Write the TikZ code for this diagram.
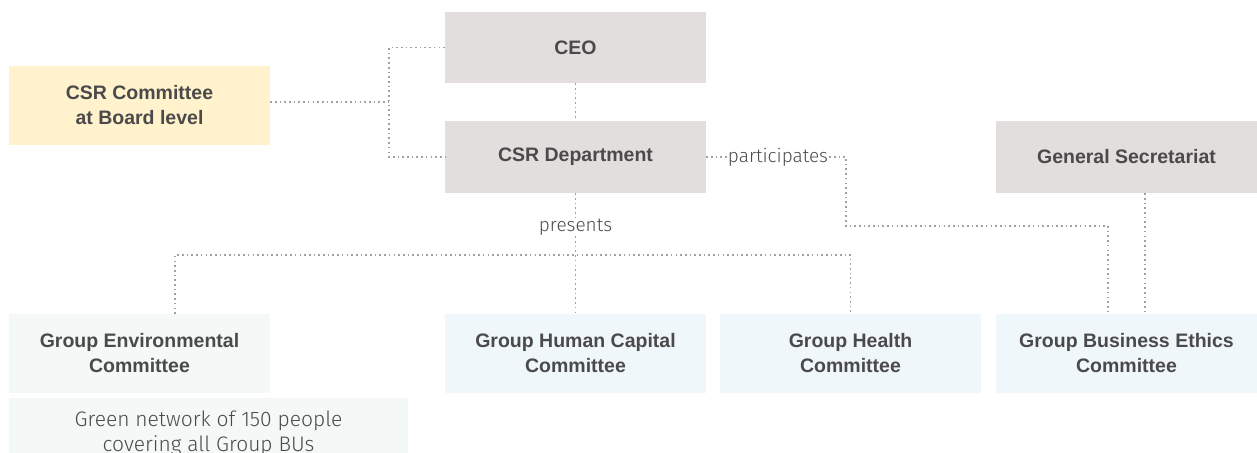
\documentclass[tikz,border=0pt]{standalone}
\usepackage{fontspec}
\setmainfont{Liberation Sans}
\newfontfamily\lightfont{Fira Sans Light}
\usetikzlibrary{calc}
\definecolor{boxgrey}{RGB}{227,222,222}
\definecolor{boxyellow}{RGB}{255,242,204}
\definecolor{boxmint}{RGB}{244,248,247}
\definecolor{boxblue}{RGB}{240,247,251}
\definecolor{textgrey}{RGB}{74,74,74}
\definecolor{linegrey}{RGB}{160,160,160}
\begin{document}
\begin{tikzpicture}[x=1pt,y=-1pt,
  box/.style={fill=#1, text=textgrey, font=\bfseries\fontsize{19.5}{25}\selectfont, align=center, minimum width=261pt, inner sep=0pt},
  link/.style={linegrey, line width=1.6pt, dash pattern=on 1.6pt off 3.1pt},
  lbl/.style={text=textgrey, font=\lightfont\fontsize{19}{25}\selectfont, inner sep=1pt}]
\useasboundingbox (0,0) rectangle (1257,452);
\node[box=boxgrey, minimum height=71pt] (ceo) at (575.5,47.5) {CEO};
\node[box=boxgrey, minimum height=72pt] (dept) at (575.5,157) {CSR Department};
\node[box=boxyellow, minimum height=79pt] (board) at (139.5,105.5) {CSR Committee\\at Board level};
\node[box=boxgrey, minimum height=72pt] (secgen) at (1126.5,157) {General Secretariat};
\node[box=boxmint, minimum height=79pt] (env) at (139.5,353.5) {Group Environmental\\Committee};
\node[box=boxblue, minimum height=79pt] (hum) at (575.5,353.5) {Group Human Capital\\Committee};
\node[box=boxblue, minimum height=79pt] (health) at (850.5,353.5) {Group Health\\Committee};
\node[box=boxblue, minimum height=79pt] (ethics) at (1126.5,353.5) {Group Business Ethics\\Committee};
\node[box=boxmint, minimum width=399pt, minimum height=70pt, anchor=north, font=\lightfont\fontsize{21}{25}\selectfont] (green) at (208.5,398) {Green network of 150 people\\covering all Group BUs};
\node[lbl] (pres) at (575.5,227) {presents};
\node[lbl] (part) at (778,157) {participates};
\coordinate (bk) at (389,102);
\coordinate (bus) at (575.5,255);
\coordinate (pj) at (846,226);
% board and CEO side
\draw[link] (ceo.west) -- (ceo.west -| bk) |- (dept.west);
\draw[link] (board.east |- bk) -- (bk);
\draw[link] (ceo) -- (dept);
% committees
\draw[link] (dept) -- (pres);
\draw[link] (pres.south) -- (hum.north);
\draw[link] ([xshift=35.5pt]env.north) |- (bus) -| (health.north);
\draw[link] (dept.east) -- (part.west);
\draw[link] (part.east) -| (pj) -| ([xshift=-18.5pt]ethics.north);
\draw[link] ([xshift=18.5pt]secgen.south) -- ([xshift=18.5pt]ethics.north);
\end{tikzpicture}
\end{document}
